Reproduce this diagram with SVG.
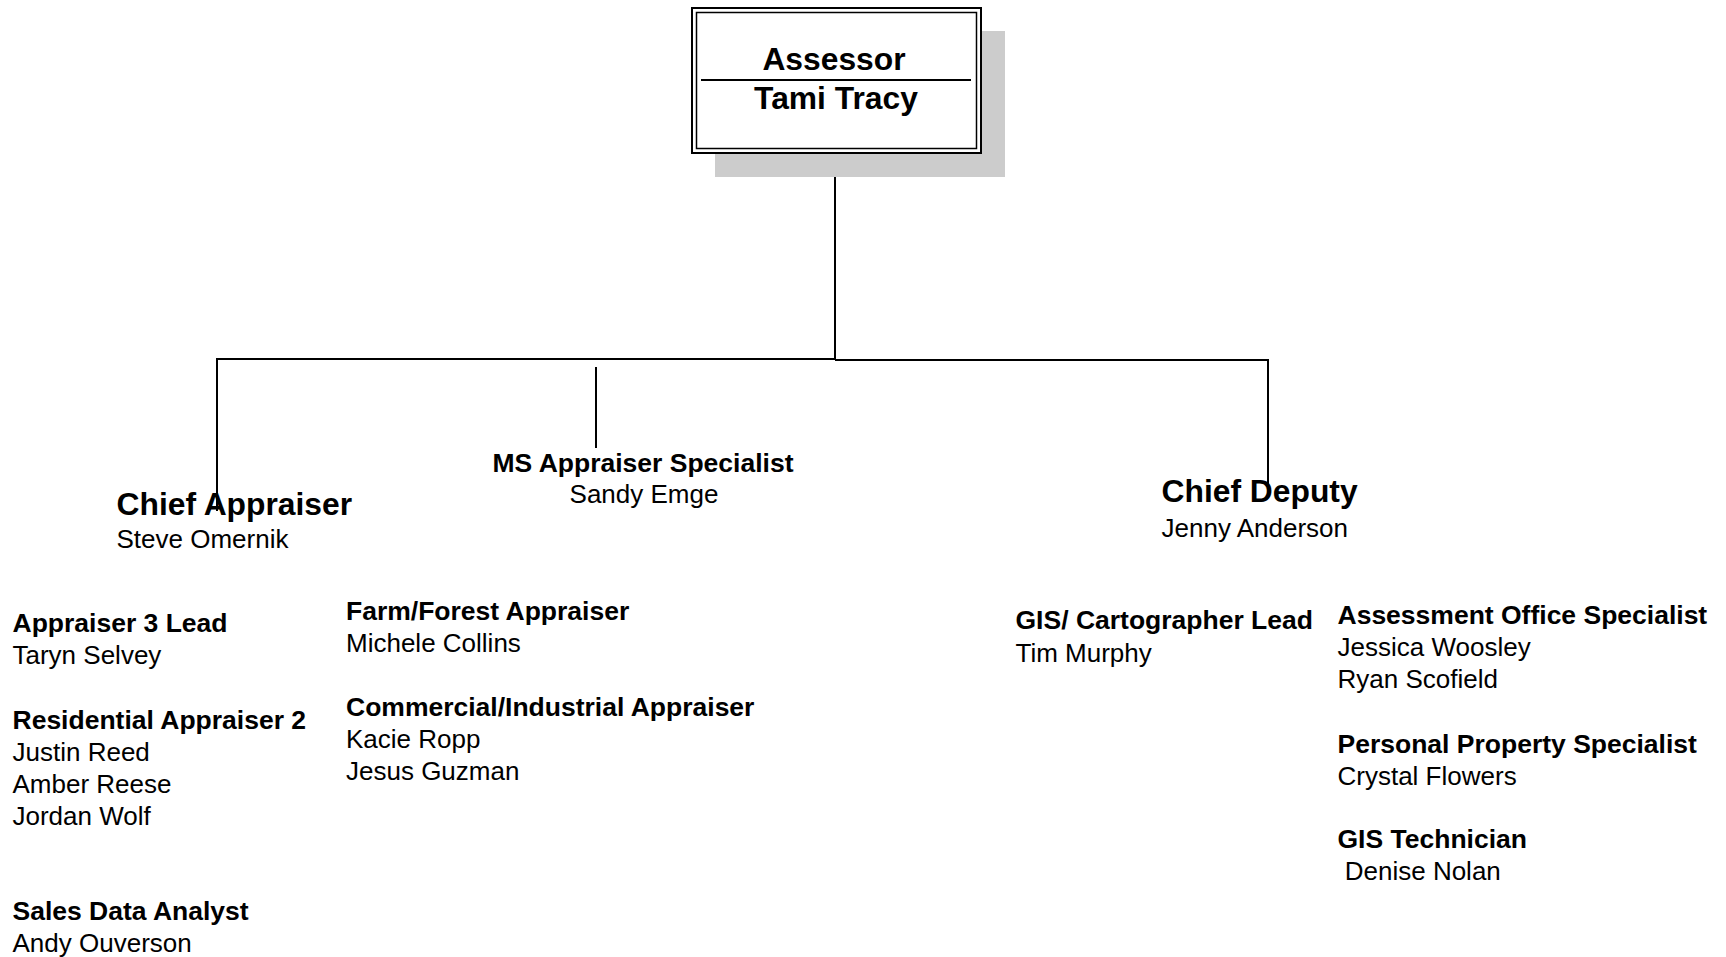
<svg xmlns="http://www.w3.org/2000/svg" width="1726" height="957" viewBox="0 0 1726 957">
<style>
text{font-family:"Liberation Sans",Arial,sans-serif;fill:#000}
.t{font-weight:bold;font-size:26.5px}
.n{font-size:26px}
.big{font-weight:bold;font-size:31.8px}
.c{text-anchor:middle}
.ln{stroke:#000;stroke-width:2;fill:none}
</style>
<rect width="1726" height="957" fill="#fff"/>
<g id="connectors">
<line class="ln" x1="835" y1="153" x2="835" y2="360"/>
<line class="ln" x1="216" y1="359" x2="836" y2="359"/>
<line class="ln" x1="835" y1="360" x2="1269" y2="360"/>
<line class="ln" x1="217" y1="358" x2="217" y2="511"/>
<line class="ln" x1="1268" y1="359" x2="1268" y2="489"/>
<line class="ln" x1="596" y1="367" x2="596" y2="448"/>
</g>
<g id="assessor">
<rect x="715" y="31" width="290" height="146" fill="#cccccc"/>
<rect x="692" y="8" width="289" height="145" fill="#fff" stroke="#000" stroke-width="2"/>
<rect x="696.5" y="12.5" width="280" height="136" fill="none" stroke="#000" stroke-width="1.5"/>
<line x1="701" y1="80" x2="971" y2="80" stroke="#000" stroke-width="1.8"/>
<text class="big c" x="834" y="70">Assessor</text>
<text class="big c" x="836" y="108.5">Tami Tracy</text>
</g>
<g id="chief-appraiser">
<text class="big" x="116.5" y="515">Chief Appraiser</text>
<text class="n" x="116.5" y="548">Steve Omernik</text>
</g>
<g id="ms-appraiser">
<text class="t c" x="643" y="471.5">MS Appraiser Specialist</text>
<text class="n c" x="644" y="502.5">Sandy Emge</text>
</g>
<g id="chief-deputy">
<text class="big" x="1161.5" y="502">Chief Deputy</text>
<text class="n" x="1161.5" y="537">Jenny Anderson</text>
</g>
<g id="appraiser3">
<text class="t" x="12.5" y="631.5">Appraiser 3 Lead</text>
<text class="n" x="12.5" y="664">Taryn Selvey</text>
</g>
<g id="residential">
<text class="t" x="12.5" y="728.5">Residential Appraiser 2</text>
<text class="n" x="12.5" y="760.5">Justin Reed</text>
<text class="n" x="12.5" y="792.5">Amber Reese</text>
<text class="n" x="12.5" y="824.5">Jordan Wolf</text>
</g>
<g id="sales">
<text class="t" x="12.5" y="920">Sales Data Analyst</text>
<text class="n" x="12.5" y="952">Andy Ouverson</text>
</g>
<g id="farm">
<text class="t" x="346" y="620">Farm/Forest Appraiser</text>
<text class="n" x="346" y="651.5">Michele Collins</text>
</g>
<g id="commercial">
<text class="t" x="346" y="715.5">Commercial/Industrial Appraiser</text>
<text class="n" x="346" y="747.5">Kacie Ropp</text>
<text class="n" x="346" y="779.5">Jesus Guzman</text>
</g>
<g id="gis-lead">
<text class="t" x="1015.5" y="629">GIS/ Cartographer Lead</text>
<text class="n" x="1015.5" y="662">Tim Murphy</text>
</g>
<g id="assessment-office">
<text class="t" x="1337.5" y="624">Assessment Office Specialist</text>
<text class="n" x="1337.5" y="656">Jessica Woosley</text>
<text class="n" x="1337.5" y="688">Ryan Scofield</text>
</g>
<g id="personal-property">
<text class="t" x="1337.5" y="753">Personal Property Specialist</text>
<text class="n" x="1337.5" y="785">Crystal Flowers</text>
</g>
<g id="gis-tech">
<text class="t" x="1337.5" y="847.5">GIS Technician</text>
<text class="n" x="1337.5" y="879.5" xml:space="preserve"> Denise Nolan</text>
</g>
</svg>
